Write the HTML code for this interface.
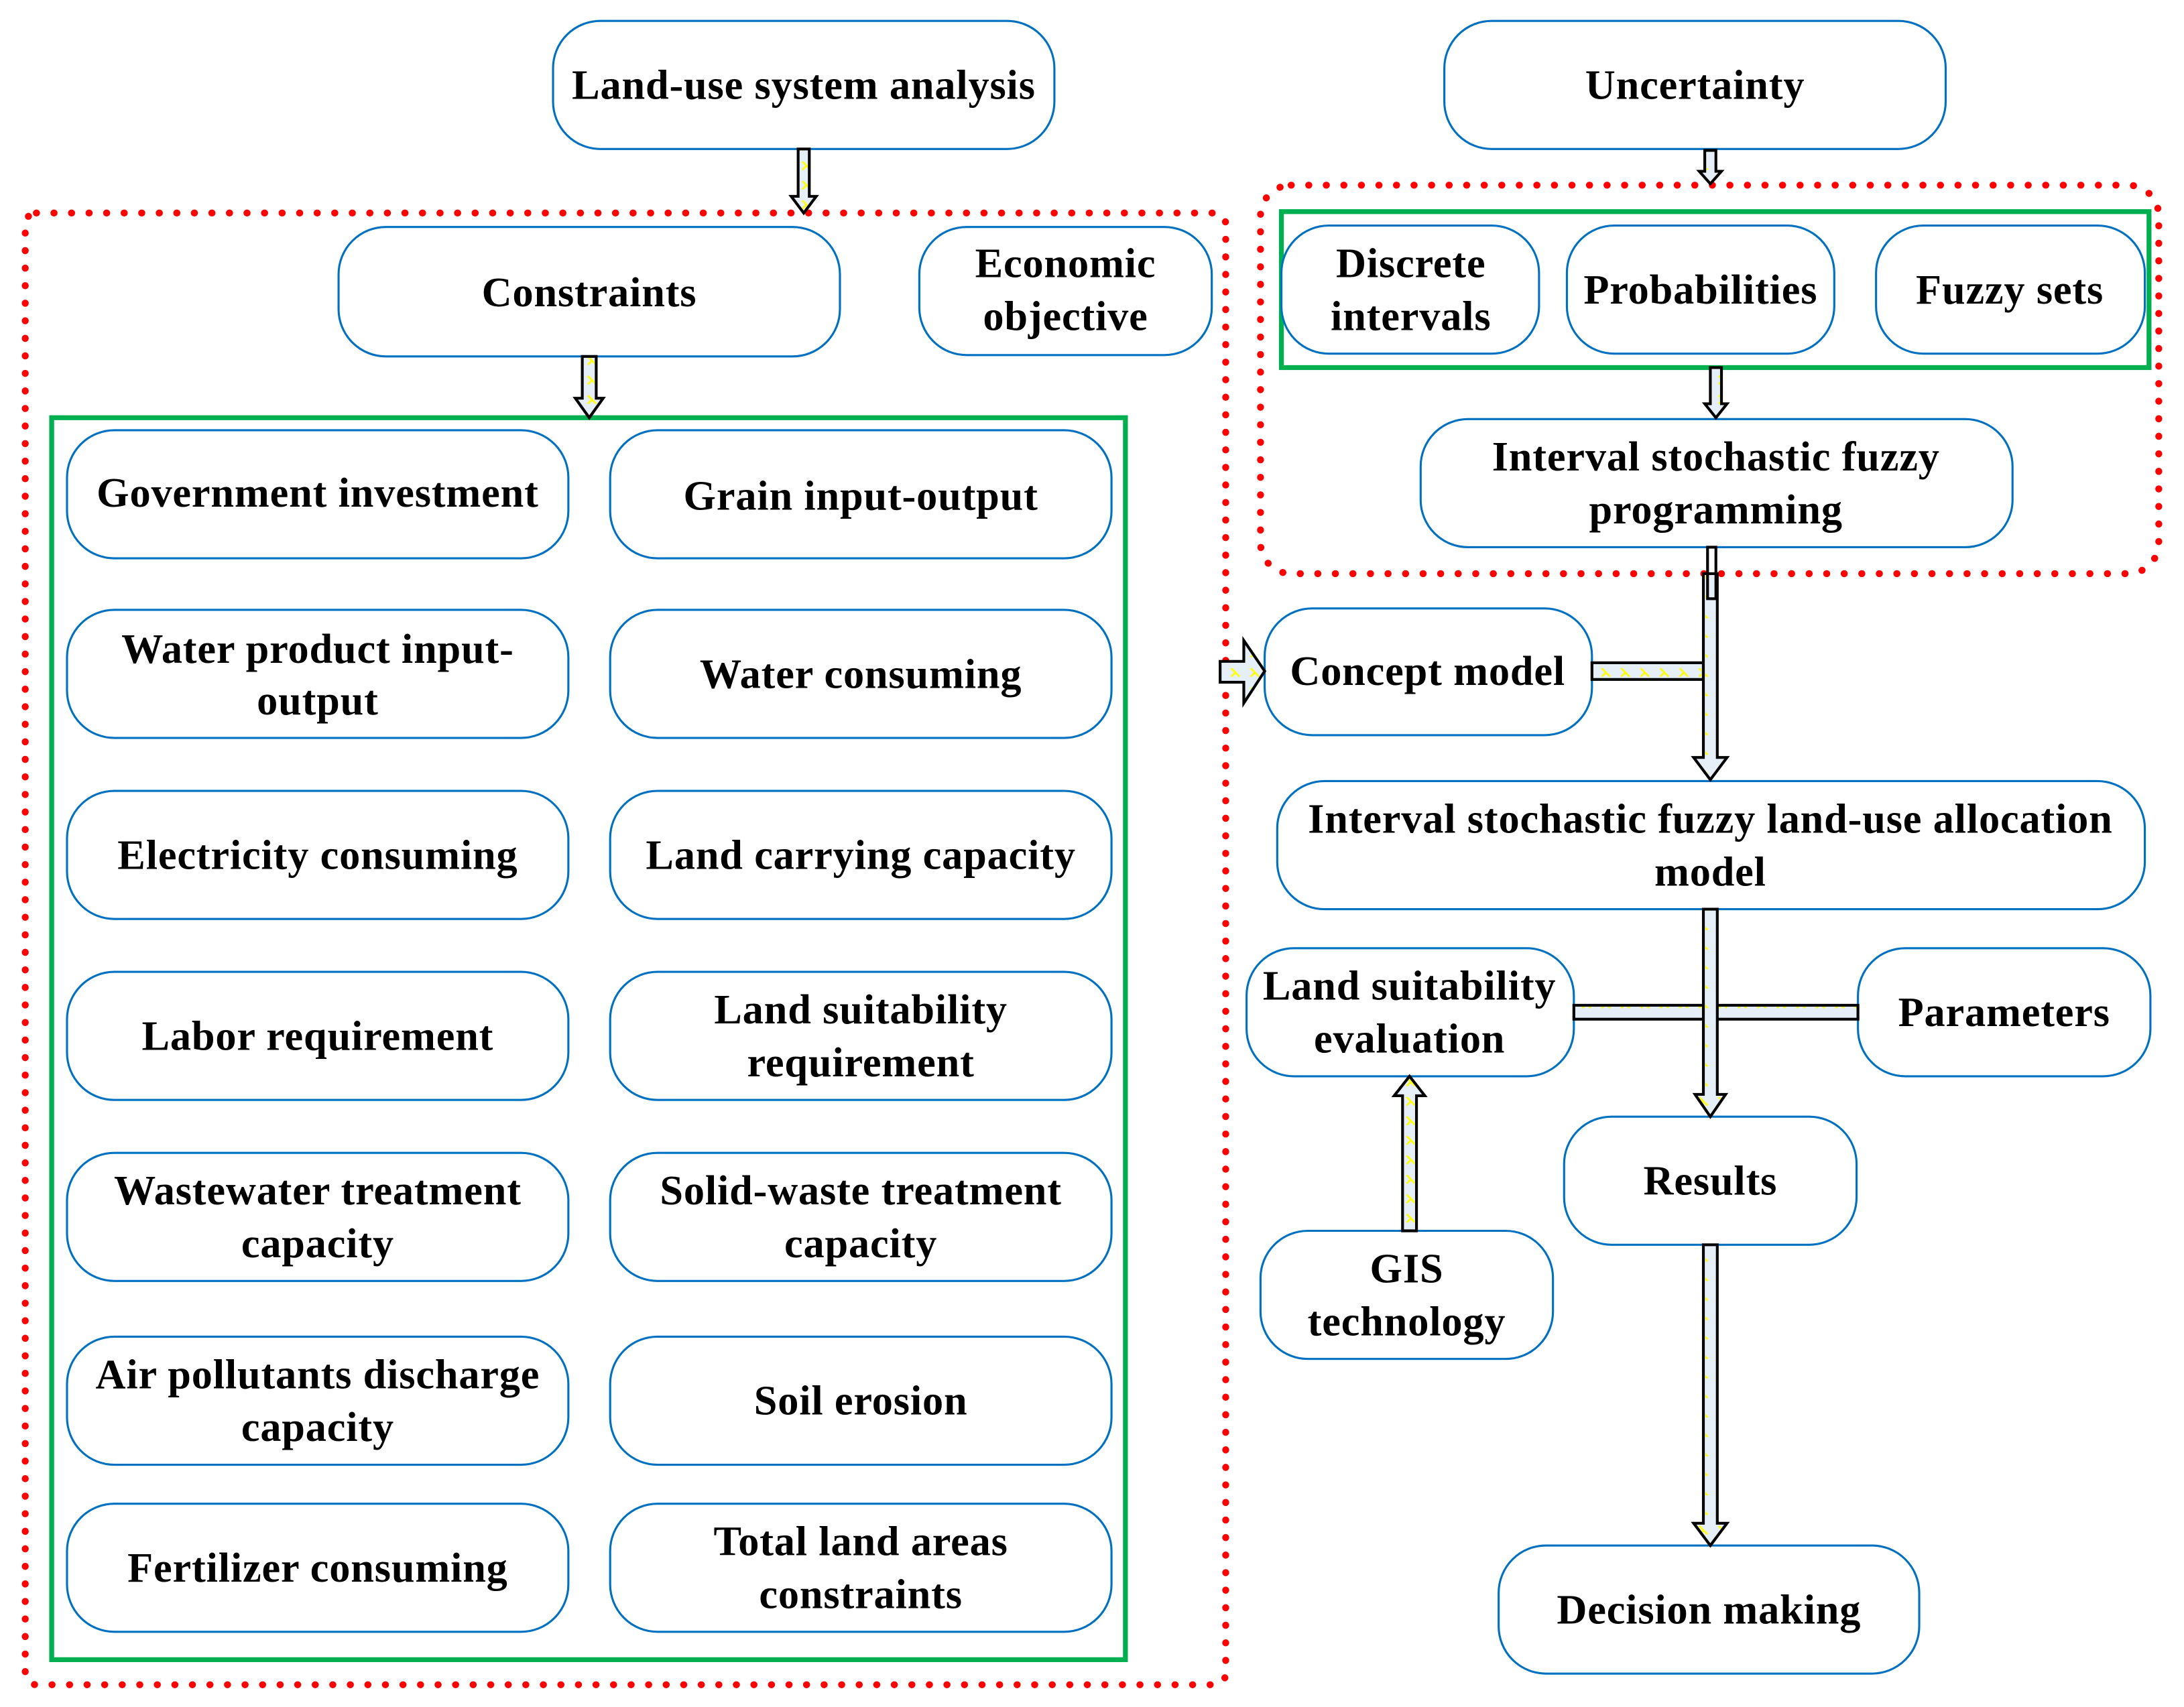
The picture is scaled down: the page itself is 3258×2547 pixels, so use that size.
<!DOCTYPE html>
<html><head><meta charset="utf-8"><style>html,body{margin:0;padding:0;background:#fff}svg{display:block}</style></head>
<body>
<svg width="3258" height="2547" viewBox="0 0 1568 1226" xmlns="http://www.w3.org/2000/svg">
<defs>
<pattern id="p" width="14" height="14" patternUnits="userSpaceOnUse"><rect width="14" height="14" fill="#e6eef8"/><path d="M2 10 L5 7 L8 10 M2 4 L5 7" stroke="#ffff00" stroke-width="1.3" fill="none"/></pattern>
</defs>
<g font-family="Liberation Serif, serif" font-weight="bold" font-size="30" text-anchor="middle" fill="#000" letter-spacing="0.4">
<rect x="18" y="153" width="862" height="1057" fill="none" stroke="#ff0000" stroke-width="5" stroke-dasharray="0.1 12.5" stroke-linecap="round" rx="8"/>
<rect x="905" y="133" width="645" height="279" fill="none" stroke="#ff0000" stroke-width="5" stroke-dasharray="0.1 12.5" stroke-linecap="round" rx="22"/>
<rect x="37" y="300" width="771" height="892" fill="none" stroke="#00b050" stroke-width="3.5"/>
<rect x="920" y="152" width="623" height="112" fill="none" stroke="#00b050" stroke-width="3.5"/>
<g fill="#fff" stroke="#0070c0" stroke-width="1.5">
<rect x="397" y="15" width="360" height="92" rx="34"/>
<rect x="1037" y="15" width="360" height="92" rx="34"/>
<rect x="243" y="163" width="360" height="93" rx="34"/>
<rect x="660" y="163" width="210" height="92" rx="34"/>
<rect x="48" y="309" width="360" height="92" rx="34"/><rect x="438" y="309" width="360" height="92" rx="34"/>
<rect x="48" y="438" width="360" height="92" rx="34"/><rect x="438" y="438" width="360" height="92" rx="34"/>
<rect x="48" y="568" width="360" height="92" rx="34"/><rect x="438" y="568" width="360" height="92" rx="34"/>
<rect x="48" y="698" width="360" height="92" rx="34"/><rect x="438" y="698" width="360" height="92" rx="34"/>
<rect x="48" y="828" width="360" height="92" rx="34"/><rect x="438" y="828" width="360" height="92" rx="34"/>
<rect x="48" y="960" width="360" height="92" rx="34"/><rect x="438" y="960" width="360" height="92" rx="34"/>
<rect x="48" y="1080" width="360" height="92" rx="34"/><rect x="438" y="1080" width="360" height="92" rx="34"/>
<rect x="920" y="162" width="185" height="92" rx="34"/>
<rect x="1125" y="162" width="192" height="92" rx="34"/>
<rect x="1347" y="162" width="193" height="92" rx="34"/>
<rect x="1020" y="301" width="425" height="92" rx="34"/>
<rect x="908" y="437" width="235" height="91" rx="34"/>
<rect x="917" y="561" width="623" height="92" rx="34"/>
<rect x="895" y="681" width="235" height="92" rx="34"/>
<rect x="1334" y="681" width="210" height="92" rx="34"/>
<rect x="1123" y="802" width="210" height="92" rx="34"/>
<rect x="905" y="884" width="210" height="92" rx="34"/>
<rect x="1076" y="1110" width="302" height="92" rx="34"/>
</g>
<g fill="url(#p)" stroke="#000" stroke-width="2">
<path d="M573 107 L581 107 L581 141 L586 141 L577 153 L568 141 L573 141 Z"/>
<path d="M1224 108 L1232 108 L1232 123 L1236 123 L1228 132 L1220 123 L1224 123 Z"/>
<path d="M418 256 L428 256 L428 286 L433 286 L423 300 L413 286 L418 286 Z"/>
<path d="M1228 264 L1236 264 L1236 290 L1240 290 L1232 300 L1224 290 L1228 290 Z"/>
<rect x="1143" y="476" width="80" height="12"/>
<path d="M1223 412 L1233 412 L1233 544 L1240 544 L1228 560 L1216 544 L1223 544 Z"/>
<rect x="1226" y="393" width="6" height="37" fill="none"/>
<path d="M876 475 L893 475 L893 460 L908 482 L893 505 L893 490 L876 490 Z"/>
<rect x="1130" y="722" width="204" height="10"/>
<path d="M1223 653 L1233 653 L1233 786 L1239 786 L1228 802 L1217 786 L1223 786 Z"/>
<path d="M1007 884 L1017 884 L1017 787 L1023 787 L1012 773 L1001 787 L1007 787 Z"/>
<path d="M1223 894 L1233 894 L1233 1094 L1240 1094 L1228 1110 L1216 1094 L1223 1094 Z"/>
</g>
<text x="577" y="71">Land-use system analysis</text>
<text x="1217" y="71">Uncertainty</text>
<text x="423" y="220">Constraints</text>
<text x="765" y="199">Economic</text><text x="765" y="237">objective</text>
<text x="228" y="364">Government investment</text>
<text x="618" y="366">Grain input-output</text>
<text x="228" y="476">Water product input-</text><text x="228" y="513">output</text>
<text x="618" y="494">Water consuming</text>
<text x="228" y="624">Electricity consuming</text>
<text x="618" y="624">Land carrying capacity</text>
<text x="228" y="754">Labor requirement</text>
<text x="618" y="735">Land suitability</text><text x="618" y="773">requirement</text>
<text x="228" y="865">Wastewater treatment</text><text x="228" y="903">capacity</text>
<text x="618" y="865">Solid-waste treatment</text><text x="618" y="903">capacity</text>
<text x="228" y="997">Air pollutants discharge</text><text x="228" y="1035">capacity</text>
<text x="618" y="1016">Soil erosion</text>
<text x="228" y="1136">Fertilizer consuming</text>
<text x="618" y="1117">Total land areas</text><text x="618" y="1155">constraints</text>
<text x="1013" y="199">Discrete</text><text x="1013" y="237">intervals</text>
<text x="1221" y="218">Probabilities</text>
<text x="1443" y="218">Fuzzy sets</text>
<text x="1232" y="338">Interval stochastic fuzzy</text><text x="1232" y="376">programming</text>
<text x="1025" y="492">Concept model</text>
<text x="1228" y="598">Interval stochastic fuzzy land-use allocation</text><text x="1228" y="636">model</text>
<text x="1012" y="718">Land suitability</text><text x="1012" y="756">evaluation</text>
<text x="1439" y="737">Parameters</text>
<text x="1228" y="858">Results</text>
<text x="1010" y="921">GIS</text><text x="1010" y="959">technology</text>
<text x="1227" y="1166">Decision making</text>
</g>
</svg>
</body></html>
